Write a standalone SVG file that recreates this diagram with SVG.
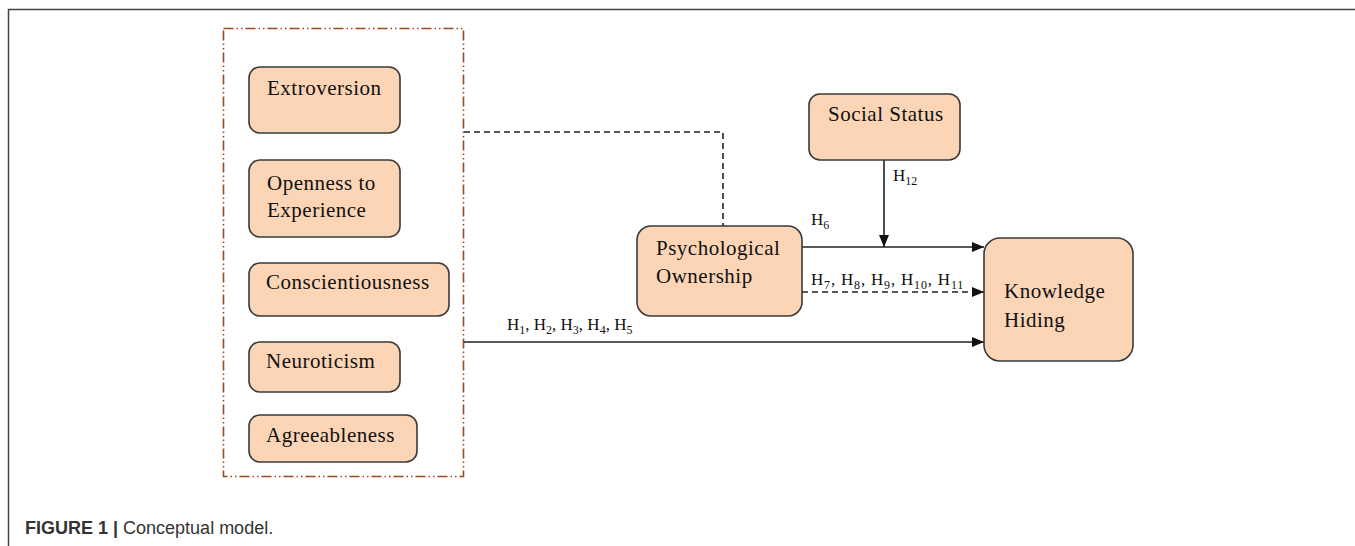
<svg xmlns="http://www.w3.org/2000/svg" width="1355" height="546" viewBox="0 0 1355 546">
<defs>
<style>
.box{fill:#FBD5B5;stroke:#3a3a3a;stroke-width:1.6}
.t{font-family:"Liberation Serif","Times New Roman",serif;font-size:21px;letter-spacing:0.5px;fill:#111}
.l{font-family:"Liberation Serif","Times New Roman",serif;font-size:17px;fill:#111}
.s{font-size:12px}
.c{stroke:#222;stroke-width:1.6;fill:none}
.d{stroke-dasharray:6,4}
</style>
<marker id="arr" markerWidth="12" markerHeight="10" refX="12" refY="5" orient="auto" markerUnits="userSpaceOnUse">
<path d="M0,0 L12,5 L0,10 Z" fill="#111"/>
</marker>
</defs>
<rect width="1355" height="546" fill="#fff"/>
<path d="M8.5,546 V9.5 H1355" fill="none" stroke="#444" stroke-width="1.5"/>
<rect x="223.5" y="28.5" width="240" height="448" fill="none" stroke="#9a4a1e" stroke-width="1.6" stroke-dasharray="10,3,1.5,3,1.5,3"/>
<g id="connectors">
<path class="c d" d="M464,132 H723 V226"/>
<path class="c" d="M802,247 H984" marker-end="url(#arr)"/>
<path class="c" d="M884,160 V247" marker-end="url(#arr)"/>
<path class="c d" d="M802,292 H984" marker-end="url(#arr)"/>
<path class="c" d="M464,342 H984" marker-end="url(#arr)"/>
<text class="l" x="811" y="225">H<tspan class="s" dy="4">6</tspan></text>
<text class="l" x="893" y="181">H<tspan class="s" dy="4">12</tspan></text>
<text class="l" x="811" y="285" letter-spacing="0.8">H<tspan class="s" dy="4">7</tspan><tspan dy="-4">, H</tspan><tspan class="s" dy="4">8</tspan><tspan dy="-4">, H</tspan><tspan class="s" dy="4">9</tspan><tspan dy="-4">, H</tspan><tspan class="s" dy="4">10</tspan><tspan dy="-4">, H</tspan><tspan class="s" dy="4">11</tspan></text>
<text class="l" x="507" y="330">H<tspan class="s" dy="4">1</tspan><tspan dy="-4">, H</tspan><tspan class="s" dy="4">2</tspan><tspan dy="-4">, H</tspan><tspan class="s" dy="4">3</tspan><tspan dy="-4">, H</tspan><tspan class="s" dy="4">4</tspan><tspan dy="-4">, H</tspan><tspan class="s" dy="4">5</tspan></text>
</g>
<g id="extroversion"><rect class="box" x="249" y="67" width="151" height="66" rx="11"/><text class="t" x="267" y="95">Extroversion</text></g>
<g id="openness"><rect class="box" x="249" y="160" width="151" height="77" rx="11"/><text class="t" x="267" y="190">Openness to</text><text class="t" x="267" y="217">Experience</text></g>
<g id="conscientiousness"><rect class="box" x="249" y="263" width="200" height="53" rx="11"/><text class="t" x="266" y="289">Conscientiousness</text></g>
<g id="neuroticism"><rect class="box" x="249" y="342" width="151" height="50" rx="11"/><text class="t" x="266" y="368">Neuroticism</text></g>
<g id="agreeableness"><rect class="box" x="249" y="415" width="168" height="47" rx="11"/><text class="t" x="266" y="442">Agreeableness</text></g>
<g id="psychological-ownership"><rect class="box" x="637" y="226" width="165" height="90" rx="14"/><text class="t" x="656" y="255">Psychological</text><text class="t" x="656" y="283">Ownership</text></g>
<g id="social-status"><rect class="box" x="809" y="94" width="151" height="66" rx="11"/><text class="t" x="828" y="121">Social Status</text></g>
<g id="knowledge-hiding"><rect class="box" x="984" y="238" width="149" height="123" rx="16"/><text class="t" x="1004" y="298">Knowledge</text><text class="t" x="1004" y="327">Hiding</text></g>
<text x="25" y="534" font-family="'Liberation Sans',Arial,sans-serif" font-size="18" fill="#333"><tspan font-weight="bold">FIGURE 1 |</tspan> Conceptual model.</text>
</svg>
